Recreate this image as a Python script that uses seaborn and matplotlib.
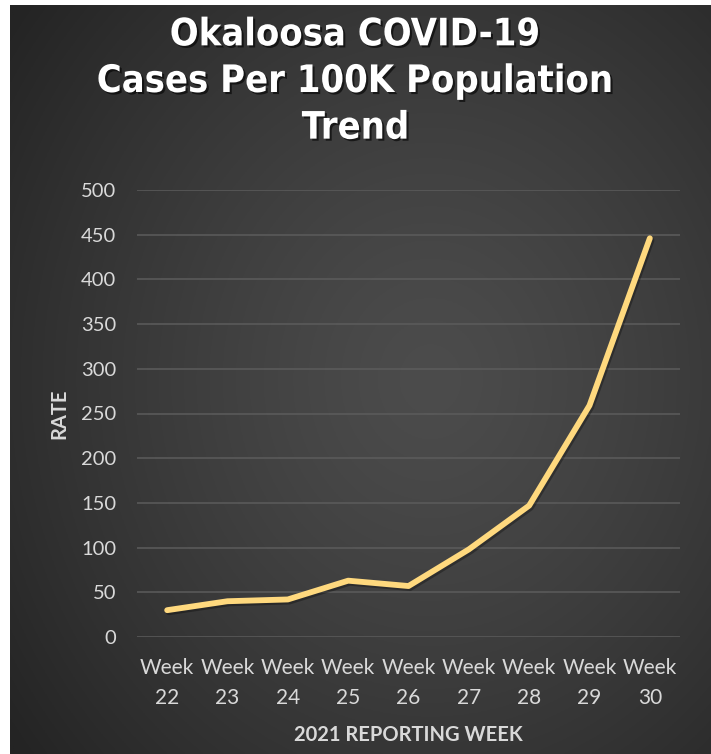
import numpy as np
import matplotlib
matplotlib.use("Agg")
import matplotlib.pyplot as plt
import matplotlib.patheffects as pe
from matplotlib import font_manager as fm
import seaborn as sns

# Weekly COVID-19 case rate per 100K population, Okaloosa County (2021)
weeks = [22, 23, 24, 25, 26, 27, 28, 29, 30]
rates = [30, 40, 42, 63, 57, 98, 147, 259, 446]
week_labels = [f"Week\n{w}" for w in weeks]
y_ticks = [0, 50, 100, 150, 200, 250, 300, 350, 400, 450, 500]

title_text = "Okaloosa COVID-19\nCases Per 100K Population\nTrend"
x_title = "2021 REPORTING WEEK"
y_title = "RATE"

sns.set_theme(style="dark")
plt.rcParams["font.family"] = ["Lato", "DejaVu Sans"]

# Pick a narrow bold face for the headline if one is available
title_family, title_stretch = "DejaVu Sans", "normal"
for f in fm.fontManager.ttflist:
    if ("Narrow" in f.name or "Condensed" in f.name or
            f.stretch in ("condensed", "semi-condensed", "extra-condensed")):
        title_family, title_stretch = f.name, f.stretch
        if "Liberation" in f.name or "DejaVu" in f.name:
            break

W, H = 711, 754
fig = plt.figure(figsize=(W / 100, H / 100), dpi=100, facecolor="white")

# Dark radial-gradient backdrop
bg = fig.add_axes([10 / W, 0, (W - 10) / W, (H - 5) / H], zorder=-10)
gx, gy = np.meshgrid(np.linspace(0, 1, 400), np.linspace(0, 1, 400))
r = np.sqrt(((gx - 0.60) / 0.75) ** 2 + ((gy - 0.50) / 0.80) ** 2)
r = np.clip(r, 0, 1)
inner, outer = 76, 36
val = (outer + (inner - outer) * (1 - r ** 1.3)) / 255.0
rgb = np.dstack([val, val, val])
bg.imshow(rgb, aspect="auto", extent=[0, 1, 0, 1], origin="lower")
bg.set_axis_off()

ax = fig.add_axes([137 / W, 1 - 637 / H, (680 - 137) / W, (637 - 190) / H])
ax.set_facecolor("none")

sns.lineplot(
    x=weeks, y=rates, ax=ax, color="#FFD97E", linewidth=4.2,
    solid_capstyle="round", solid_joinstyle="round",
    path_effects=[pe.SimpleLineShadow(offset=(1.2, -1.5), shadow_color="black", alpha=0.3),
                  pe.Normal()],
)

ax.set_xlim(weeks[0] - 0.5, weeks[-1] + 0.5)
ax.set_ylim(0, 500)
ax.set_yticks(y_ticks)
ax.set_xticks(weeks)
ax.set_xticklabels(week_labels, linespacing=1.65)
ax.grid(axis="y", color="#5c5c5c", linewidth=1.1)
ax.grid(axis="x", visible=False)
for s in ax.spines.values():
    s.set_visible(False)

label_color = "#d9d9d9"
ax.tick_params(axis="y", length=0, pad=15, labelsize=14.5, labelcolor=label_color)
ax.tick_params(axis="x", length=0, pad=15, labelsize=15, labelcolor=label_color)

ax.set_xlabel(x_title, fontsize=14.5, fontweight="bold", color=label_color, labelpad=12)
ax.set_ylabel(y_title, fontsize=14.5, fontweight="bold", color=label_color, labelpad=8)

title = fig.text(0.5, 1 - 82 / H, title_text, ha="center", va="center",
                 fontsize=30, fontweight="bold", color="white",
                 family=[title_family, "DejaVu Sans"], stretch=title_stretch,
                 linespacing=1.38,
                 path_effects=[pe.withSimplePatchShadow(offset=(1.5, -1.5),
                                                        shadow_rgbFace="black", alpha=0.6)])
# Fit the widest headline line to its target width
fig.canvas.draw()
w = title.get_window_extent().width
title.set_fontsize(30 * 515 / w)

fig.savefig("out.png", dpi=100, facecolor=fig.get_facecolor())
